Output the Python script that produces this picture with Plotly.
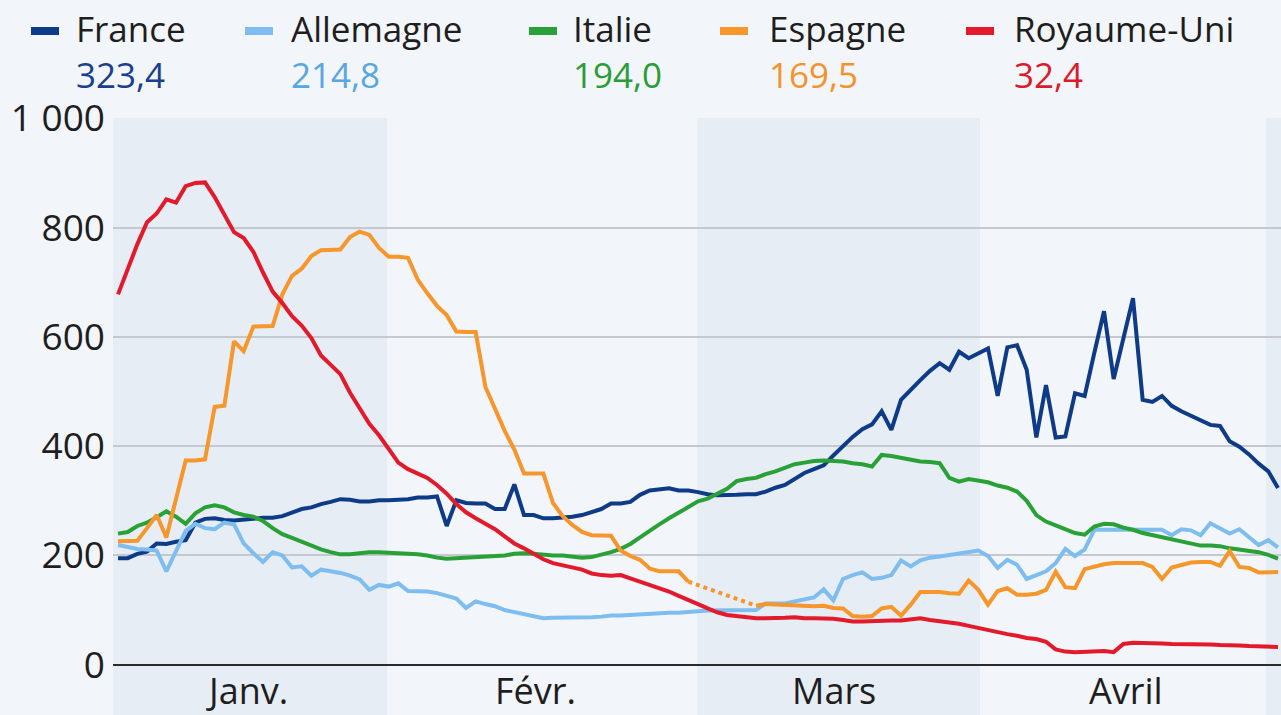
import plotly.graph_objects as go

# ---------------- data ----------------
days = list(range(121))

france = [195, 195, 203, 207, 222, 221, 225, 228, 260, 267, 268, 265, 264, 265, 267, 269, 269, 272, 278, 285,
          288, 294, 298, 303, 302, 299, 299, 301, 301, 302, 303,
          306, 306, 308, 254, 301, 296, 295, 295, 285, 285, 330, 274, 274, 268, 268, 269, 271, 274, 280,
          285, 295, 295, 298, 311, 319, 321, 323, 319, 319, 316,
          312, 310, 310, 311, 312, 312, 317, 324, 329, 340, 351, 358, 365, 383, 400, 417, 431, 440, 464,
          430, 485, 504, 521, 538, 552, 540, 573, 561, 571, 579,
          492, 581, 585, 540, 416, 512, 416, 418, 497, 492, 571, 647, 523, 599, 671, 485, 481, 492, 474,
          464, 455, 448, 439, 437, 409, 399, 385, 368, 354, 323.4]

allemagne = [219, 216, 212, 211, 209, 171, 210, 245, 258, 250, 248, 260, 257, 222, 204, 188, 206, 200, 178, 180,
             163, 174, 171, 168, 163, 156, 137, 146, 143, 149, 135,
             135, 134, 131, 126, 121, 104, 116, 111, 107, 100, 96, 92, 89, 85, 86, 86, 87, 87, 87,
             88, 90, 90, 91, 93, 94, 95, 95, 95, 97, 98,
             99, 99, 99, 99, 99, 100, 112, 112, 112, 116, 119, 123, 138, 118, 157, 164, 169, 157, 159,
             164, 191, 180, 191, 196, 198, 201, 204, 207, 209, 199,
             177, 192, 183, 157, 164, 171, 186, 212, 199, 211, 247, 247, 247, 247, 246, 246, 246, 247, 237,
             248, 246, 237, 259, 250, 240, 248, 233, 219, 228, 214.8]

italie = [240, 243, 254, 260, 270, 281, 271, 258, 277, 288, 292, 288, 279, 274, 271, 263, 250, 239, 232, 225,
          218, 211, 206, 202, 202, 204, 206, 206, 205, 204, 204,
          202, 200, 196, 194, 195, 196, 198, 199, 200, 200, 203, 204, 203, 201, 200, 200, 198, 196, 197,
          201, 206, 212, 221, 233, 246, 257, 268, 278, 288, 299,
          304, 313, 322, 336, 340, 342, 349, 354, 361, 367, 370, 373, 374, 373, 372, 369, 367, 363, 384,
          382, 379, 376, 372, 371, 369, 342, 335, 340, 337, 334,
          328, 324, 317, 300, 274, 262, 255, 247, 241, 238, 253, 258, 257, 251, 247, 241, 237, 234, 229,
          226, 222, 218, 218, 217, 213, 211, 209, 206, 201, 194.0]

espagne = [226, 226, 227, 250, 274, 233, 307, 374, 374, 376, 472, 474, 592, 574, 619, 619, 620, 678, 712, 725,
           748, 759, 759, 760, 783, 793, 787, 763, 747, 747, 745,
           705, 680, 657, 640, 610, 609, 609, 509, 468, 428, 394, 350, 350, 350, 296, 272, 256, 243, 237,
           237, 236, 209, 199, 192, 176, 171, 171, 171, 152, None,
           None, None, None, None, None, 108, 111, 110, 109, 108, 107, 107, 108, 104, 103, 89, 88, 89, 103,
           106, 90, 110, 133, 133, 133, 131, 130, 154, 137, 110,
           135, 140, 128, 128, 130, 137, 170, 142, 140, 175, 179, 184, 186, 186, 186, 186, 179, 157, 178,
           183, 187, 188, 188, 181, 208, 179, 177, 169, 169, 169.5]

royaume_uni = [678, 725, 770, 810, 826, 852, 846, 876, 882, 883, 856, 824, 792, 781, 756, 718, 683, 662, 638, 621,
               598, 566, 548, 532, 498, 468, 441, 420, 394, 370, 358,
               350, 342, 329, 313, 294, 279, 268, 259, 248, 235, 222, 213, 202, 193, 186, 182, 179, 174, 167,
               164, 163, 164, 158, 152, 146, 140, 134, 126, 119, 111,
               103, 96, 91, 89, 87, 85, 85, 85, 86, 87, 85, 85, 85, 84, 82, 79, 79, 80, 81,
               81, 81, 83, 85, 82, 80, 78, 75, 71, 67, 63,
               60, 56, 53, 49, 47, 42, 28, 24, 23, 24, 25, 25, 23, 38, 40, 40, 39, 39, 38,
               38, 38, 37, 37, 36, 36, 35, 34, 34, 33, 32.4]

series_names = ["France", "Allemagne", "Italie", "Espagne", "Royaume-Uni"]
latest_values = ["323,4", "214,8", "194,0", "169,5", "32,4"]

y_tick_vals = [0, 200, 400, 600, 800, 1000]
y_tick_text = ["0", "200", "400", "600", "800", "1 000"]

month_labels = ["Janv.", "Févr.", "Mars", "Avril"]
month_label_days = [13.3, 43.2, 74.1, 104.3]
band_edges = [-0.52, 27.83, 59.9, 89.17, 118.75, 120.31]

# ---------------- style ----------------
W, H = 1281, 715
M_L, M_T = 113, 118
PLOT_W, PLOT_H = W - M_L, H - M_T

line_colors = ["#0d3b87", "#7dbdf0", "#2aa136", "#f6962b", "#e21a2b"]
value_colors = ["#1a3f8c", "#58a6e2", "#2a9d36", "#f5922a", "#dd1a2b"]
bg = "#f2f5f9"
band_col = "#e6edf5"
text_col = "#1e1e1e"
FONT = "Open Sans"
LW = 4.0
LEG_SIZE = 35

# legend layout (pixels)
leg_dash_x = [31, 245, 529, 720, 966]
leg_text_x = [74, 289, 571, 767, 1012]
leg_name_y = 28
leg_val_y = 74


def px_x(p):
    return (p - M_L) / PLOT_W


def px_y(p):
    return (H - p) / PLOT_H


series = [france, allemagne, italie, espagne, royaume_uni]

fig = go.Figure()
for name, vals, col in zip(series_names, series, line_colors):
    fig.add_trace(go.Scatter(x=days, y=vals, mode="lines", name=name,
                             line=dict(color=col, width=LW), connectgaps=False,
                             hoverinfo="skip"))
    if name == "Espagne":
        gap = [i for i, v in enumerate(vals) if v is None]
        if gap:
            a, b = gap[0] - 1, gap[-1] + 1
            fig.add_trace(go.Scatter(x=[days[a], days[b]], y=[vals[a], vals[b]], mode="lines",
                                     line=dict(color=col, width=LW, dash="4px,4px"),
                                     showlegend=False, hoverinfo="skip"))

shapes = []
for i in range(len(band_edges) - 1):
    if i % 2 == 0:
        shapes.append(dict(type="rect", xref="x", yref="paper", x0=band_edges[i], x1=band_edges[i + 1],
                           y0=0, y1=1, fillcolor=band_col, line=dict(width=0), layer="below"))

annotations = []
for i, name in enumerate(series_names):
    shapes.append(dict(type="rect", xref="paper", yref="paper",
                       x0=px_x(leg_dash_x[i]), x1=px_x(leg_dash_x[i] + 28),
                       y0=px_y(31 + 4), y1=px_y(31 - 4),
                       fillcolor=line_colors[i], line=dict(width=0)))
    annotations.append(dict(xref="paper", yref="paper", x=px_x(leg_text_x[i]), y=px_y(leg_name_y),
                            xanchor="left", yanchor="middle", text=name, showarrow=False,
                            font=dict(family=FONT, size=LEG_SIZE, color=text_col)))
    annotations.append(dict(xref="paper", yref="paper", x=px_x(leg_text_x[i]), y=px_y(leg_val_y),
                            xanchor="left", yanchor="middle", text=latest_values[i], showarrow=False,
                            font=dict(family=FONT, size=LEG_SIZE, color=value_colors[i])))

for lab, d in zip(month_labels, month_label_days):
    annotations.append(dict(xref="x", yref="y", x=d, y=-47, xanchor="center", yanchor="middle",
                            text=lab, showarrow=False, font=dict(family=FONT, size=36, color=text_col)))

fig.update_layout(
    width=W, height=H,
    margin=dict(l=M_L, r=0, t=M_T, b=0, pad=0),
    paper_bgcolor=bg, plot_bgcolor=bg,
    showlegend=False,
    shapes=shapes, annotations=annotations,
    font=dict(family=FONT, color=text_col),
    xaxis=dict(range=[band_edges[0], band_edges[-1]], showgrid=False, zeroline=False,
               showticklabels=False, showline=False, fixedrange=True),
    yaxis=dict(range=[-92.1, 1000.9], tickvals=y_tick_vals, ticktext=y_tick_text,
               showgrid=True, gridcolor="#c5c9cf", gridwidth=1.5,
               zeroline=True, zerolinecolor="#2b2b2b", zerolinewidth=2,
               showline=False, ticks="", ticklabelstandoff=7,
               tickfont=dict(family=FONT, size=37, color=text_col), fixedrange=True),
)

fig.write_html("out.html", config={"displayModeBar": False})
